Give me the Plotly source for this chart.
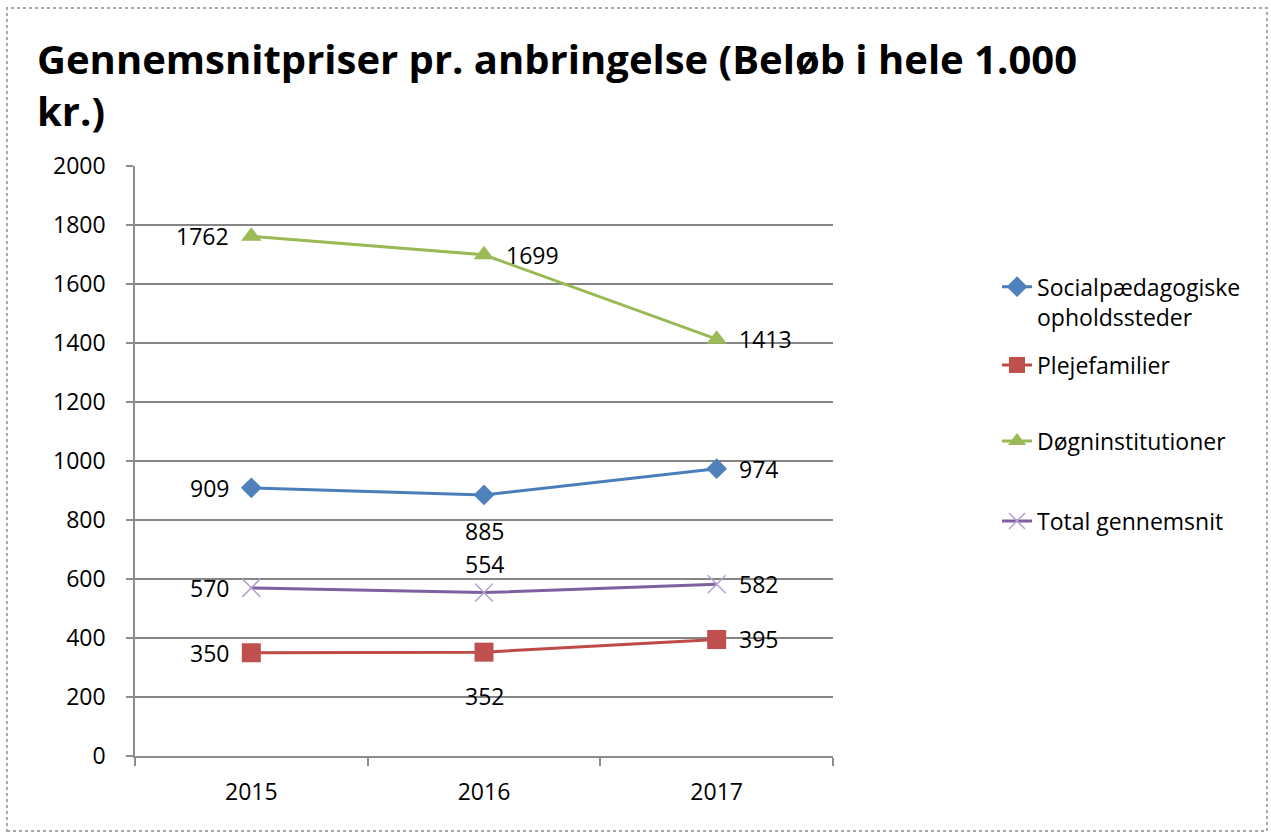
import plotly.graph_objects as go

# ---- data ----
years = ["2015", "2016", "2017"]
series_names = ["Socialpædagogiske<br>opholdssteder", "Plejefamilier",
                "Døgninstitutioner", "Total gennemsnit"]
socialpaed = [909, 885, 974]
plejefamilier = [350, 352, 395]
dogninst = [1762, 1699, 1413]
total_gns = [570, 554, 582]
y_tick_vals = [0, 200, 400, 600, 800, 1000, 1200, 1400, 1600, 1800, 2000]
title_text = "Gennemsnitpriser pr. anbringelse (Beløb i hele 1.000<br>kr.)"

# label placement (style, not data)
label_sides = [
    ["left", "below", "right"],
    ["left", "below2", "right"],
    ["left", "right", "right"],
    ["left", "above", "right"],
]
side_style = {
    "left": dict(xanchor="right", yanchor="middle", xshift=-20, yshift=0),
    "right": dict(xanchor="left", yanchor="middle", xshift=20, yshift=0),
    "below": dict(xanchor="center", yanchor="middle", xshift=0, yshift=-36),
    "below2": dict(xanchor="center", yanchor="middle", xshift=0, yshift=-44),
    "above": dict(xanchor="center", yanchor="middle", xshift=0, yshift=29),
}

FONT = "Open Sans"
FS = 23
all_values = [socialpaed, plejefamilier, dogninst, total_gns]
line_colors = ["#4A7EBB", "#BE4B48", "#98B954", "#7D60A0"]
markers = [
    dict(symbol="diamond", size=16, color="#4F81BD", line=dict(width=0)),
    dict(symbol="square", size=19, color="#C0504D", line=dict(width=0)),
    dict(symbol="triangle-up", size=18, color="#9BBB59", line=dict(width=0)),
    dict(symbol="x-thin", size=18, color="#B1A3D0", line=dict(width=1.5, color="#B1A3D0")),
]
legend_keys = ["legend", "legend2", "legend3", "legend4"]

fig = go.Figure()
for i, vals in enumerate(all_values):
    fig.add_trace(go.Scatter(
        x=years, y=vals, name=series_names[i], mode="lines+markers",
        line=dict(color=line_colors[i], width=3),
        marker=markers[i], legend=legend_keys[i],
    ))

annotations = []
for i, vals in enumerate(all_values):
    for j, v in enumerate(vals):
        st = side_style[label_sides[i][j]]
        annotations.append(dict(
            x=j, y=v, xref="x", yref="y", text=str(v), showarrow=False,
            font=dict(family=FONT, size=FS, color="#000"), **st))

# plot area in pixels: x 135..833, y 166..756
legend_y = [0.770, 0.6627, 0.5339, 0.3983]
legend_layout = {}
for i, key in enumerate(legend_keys):
    legend_layout[key] = dict(
        x=1.235, y=legend_y[i], xanchor="left", yanchor="middle",
        font=dict(family=FONT, size=FS, color="#000"),
        bgcolor="rgba(0,0,0,0)", valign="top", borderwidth=0,
    )

fig.update_layout(
    width=1271, height=833,
    margin=dict(l=135, r=438, t=166, b=77, autoexpand=False),
    paper_bgcolor="white", plot_bgcolor="white",
    title=dict(text=title_text, x=37 / 1271, xanchor="left", xref="container",
               y=1 - 74 / 833, yanchor="top", yref="container",
               font=dict(family=FONT, size=40, color="#000", weight="bold")),
    showlegend=True,
    annotations=annotations,
    shapes=[dict(type="rect", xref="paper", yref="paper",
                 x0=(7 - 135) / 698, x1=(1267 - 135) / 698,
                 y0=(756 - 831) / 590, y1=(756 - 8) / 590,
                 line=dict(color="#a8a8a8", width=2, dash="dot"),
                 fillcolor="rgba(0,0,0,0)", layer="below")],
    **legend_layout,
)
fig.update_xaxes(type="category", range=[-0.5, 2.5], tickson="boundaries",
                 ticks="outside", ticklen=8, tickcolor="#8c8c8c", tickwidth=1.5,
                 showline=True, linecolor="#8c8c8c", linewidth=1.5, showgrid=False,
                 tickfont=dict(family=FONT, size=FS, color="#000"),
                 ticklabelstandoff=15)
fig.update_yaxes(range=[0, 2000], tickvals=y_tick_vals, ticks="outside", ticklen=7,
                 tickcolor="#8c8c8c", tickwidth=1.5,
                 showline=True, linecolor="#8c8c8c", linewidth=1.5,
                 showgrid=True, gridcolor="#858585", gridwidth=1.5, zeroline=False,
                 tickfont=dict(family=FONT, size=FS, color="#000"),
                 ticklabelstandoff=16)

fig.write_html("out.html", config={"displayModeBar": False},
               post_script="document.body.style.margin='0';")
